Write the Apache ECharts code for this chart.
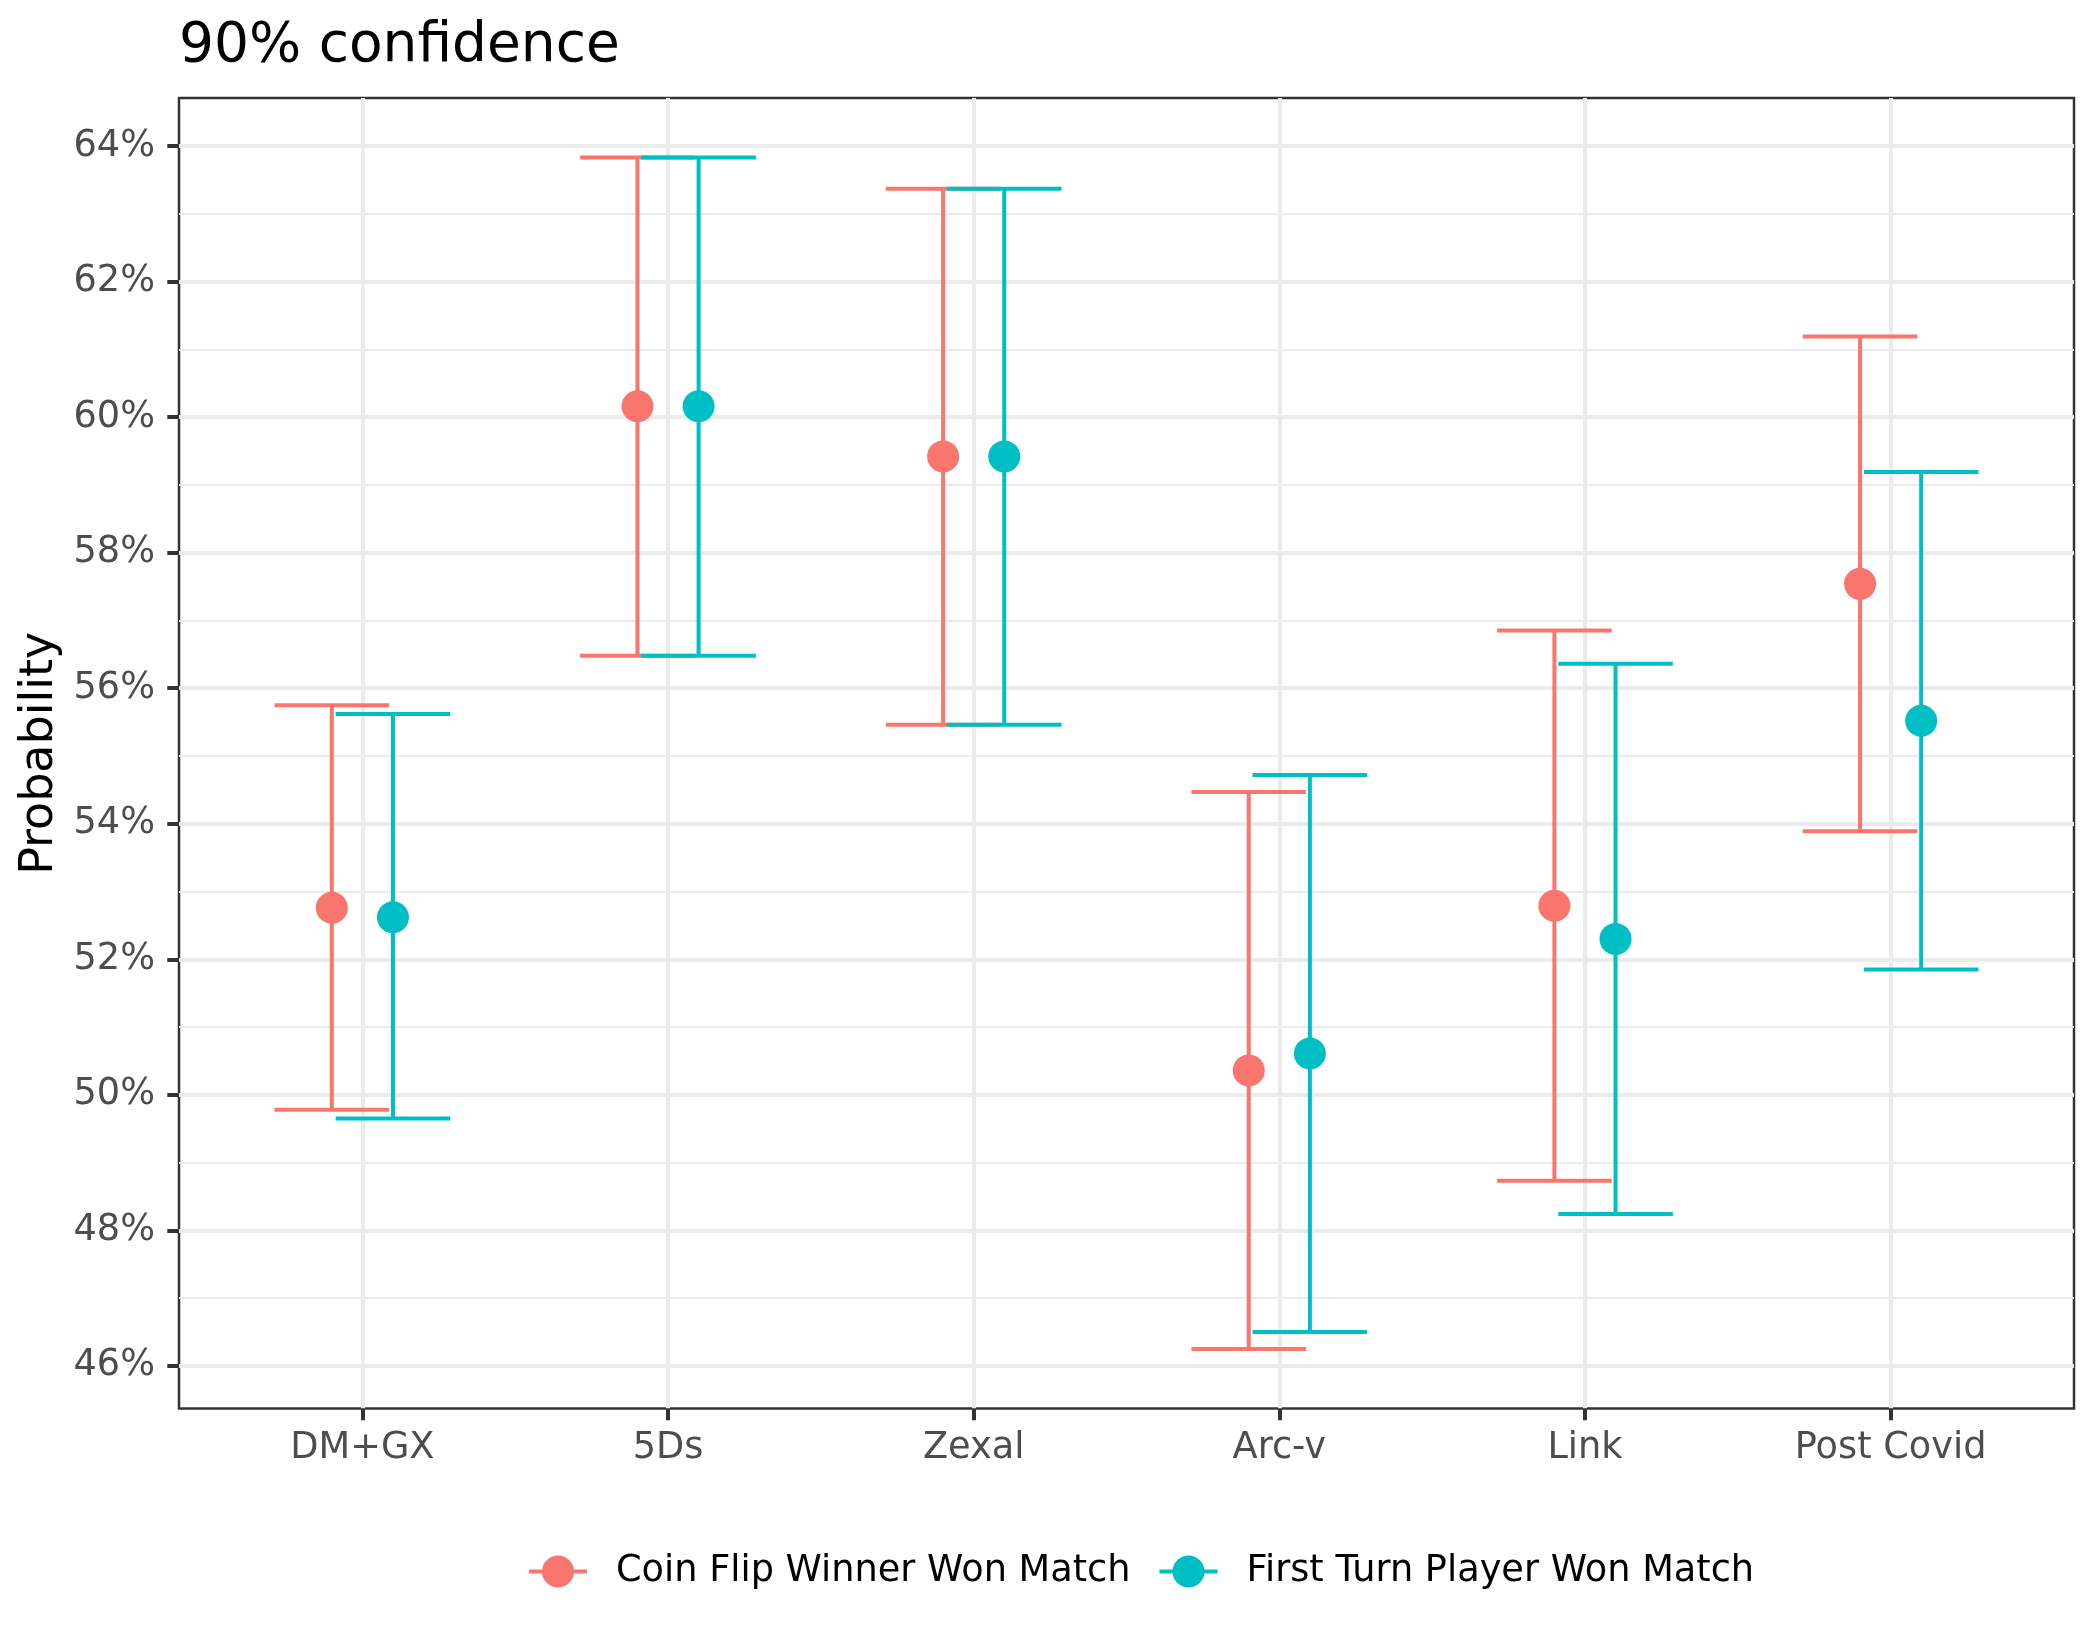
<!DOCTYPE html>
<html><head><meta charset="utf-8">
<script src="https://cdn.jsdelivr.net/npm/echarts@6/dist/echarts.min.js"></script>
<style>html,body{margin:0;padding:0;background:#fff}#c{width:2100px;height:1650px}</style>
</head><body><div id="c"></div>
<script>
const categories = ['DM+GX', '5Ds', 'Zexal', 'Arc-v', 'Link', 'Post Covid'];
const seriesNames = ['Coin Flip Winner Won Match', 'First Turn Player Won Match'];
const coinMid  = [52.76, 60.16, 59.42, 50.36, 52.79, 57.54];
const coinLow  = [49.78, 56.48, 55.46, 46.25, 48.73, 53.89];
const coinHigh = [55.75, 63.83, 63.37, 54.47, 56.85, 61.19];
const firstMid  = [52.62, 60.16, 59.42, 50.61, 52.30, 55.52];
const firstLow  = [49.65, 56.48, 55.46, 46.50, 48.24, 51.85];
const firstHigh = [55.62, 63.83, 63.37, 54.72, 56.36, 59.19];
const yTicks = [46, 48, 50, 52, 54, 56, 58, 60, 62, 64];
const yMinorTicks = [47, 49, 51, 53, 55, 57, 59, 61, 63];
const colors = ['#F8766D', '#00BFC4'];

const FONT = 'DejaVu Sans';
const dodge = 0.1, capHalf = 0.1875;
const xIdx = categories.map((c, i) => i);
const allLo = Math.min(...coinLow, ...firstLow), allHi = Math.max(...coinHigh, ...firstHigh);
const pad = 0.05 * (allHi - allLo);
const yMin = allLo - pad, yMax = allHi + pad;

function makeErr(color) {
  return function (params, api) {
    const x = api.value(0), lo = api.value(1), hi = api.value(2);
    const pT = api.coord([x, hi]), pB = api.coord([x, lo]);
    const l = api.coord([x - capHalf, hi])[0], r = api.coord([x + capHalf, hi])[0];
    const st = { stroke: color, lineWidth: 4, fill: null };
    return { type: 'group', children: [
      { type: 'line', shape: { x1: pT[0], y1: pT[1], x2: pB[0], y2: pB[1] }, style: st },
      { type: 'line', shape: { x1: l, y1: pT[1], x2: r, y2: pT[1] }, style: st },
      { type: 'line', shape: { x1: l, y1: pB[1], x2: r, y2: pB[1] }, style: st }
    ]};
  };
}
const groups = [
  { name: seriesNames[0], mid: coinMid, lo: coinLow, hi: coinHigh, off: -dodge, color: colors[0] },
  { name: seriesNames[1], mid: firstMid, lo: firstLow, hi: firstHigh, off: dodge, color: colors[1] }
];
const series = [];
groups.forEach((g, k) => {
  series.push({
    type: 'custom', name: 'err' + k, renderItem: makeErr(g.color),
    encode: { x: 0, y: [1, 2] }, itemStyle: { color: g.color }, z: 3,
    data: xIdx.map(i => [i + g.off, g.lo[i], g.hi[i]])
  });
});
groups.forEach((g, k) => {
  series.push({
    type: 'scatter', name: g.name, symbol: 'circle', symbolSize: 32, z: 5,
    itemStyle: { color: g.color, opacity: 1 },
    data: xIdx.map(i => [i + g.off, g.mid[i]])
  });
});
const legendIcon = 'path://M0,14 L58,14 L58,18 L0,18 Z M13,16 A16,16 0 1,1 45,16 A16,16 0 1,1 13,16 Z';

const chart = echarts.init(document.getElementById('c'), null, { renderer: 'canvas' });
chart.setOption({
  animation: false,
  backgroundColor: '#ffffff',
  textStyle: { fontFamily: FONT },
  title: { text: '90% confidence', left: 179, top: 19, padding: 0,
    textStyle: { fontSize: 55, fontWeight: 'normal', color: '#000000', fontFamily: FONT } },
  legend: {
    left: 529, top: 1553, padding: 0, itemGap: 29, itemWidth: 58, itemHeight: 32,
    data: seriesNames.map(n => ({ name: n, icon: legendIcon })),
    textStyle: { fontSize: 36.7, color: '#000000', fontFamily: FONT, padding: [0, 0, 0, 24] },
    selectedMode: false
  },
  grid: { left: 179, right: 26, top: 98, bottom: 241.5, containLabel: false, outerBoundsMode: 'none',
    show: true, borderColor: '#333333', borderWidth: 2.5, backgroundColor: 'transparent' },
  xAxis: {
    type: 'value', min: -0.6, max: categories.length - 0.4,
    axisLine: { show: false, onZero: false },
    axisTick: { show: true, length: 11.7, lineStyle: { color: '#333333', width: 4 }, customValues: xIdx },
    axisLabel: { customValues: xIdx, formatter: v => categories[Math.round(v)], fontSize: 36.7,
      color: '#4D4D4D', margin: 21, fontFamily: FONT },
    splitLine: { show: true, lineStyle: { color: '#EBEBEB', width: 4 } }
  },
  yAxis: [{
    type: 'value', min: yMin, max: yMax,
    axisLine: { show: false, onZero: false },
    axisTick: { show: true, length: 11.7, lineStyle: { color: '#333333', width: 4 }, customValues: yTicks },
    axisLabel: { customValues: yTicks, formatter: v => Math.round(v) + '%', fontSize: 36.7,
      color: '#4D4D4D', margin: 24, fontFamily: FONT },
    splitLine: { show: true, lineStyle: { color: '#EBEBEB', width: 4 } },
    name: 'Probability', nameLocation: 'middle', nameGap: 113,
    nameTextStyle: { fontSize: 46, color: '#000000', fontFamily: FONT }
  }, {
    type: 'value', min: yMin, max: yMax, position: 'left',
    axisLine: { show: false, onZero: false },
    axisTick: { show: false, customValues: yMinorTicks },
    axisLabel: { show: false, customValues: yMinorTicks },
    splitLine: { show: true, lineStyle: { color: '#EBEBEB', width: 2 } }
  }],
  series: series
});
</script></body></html>
